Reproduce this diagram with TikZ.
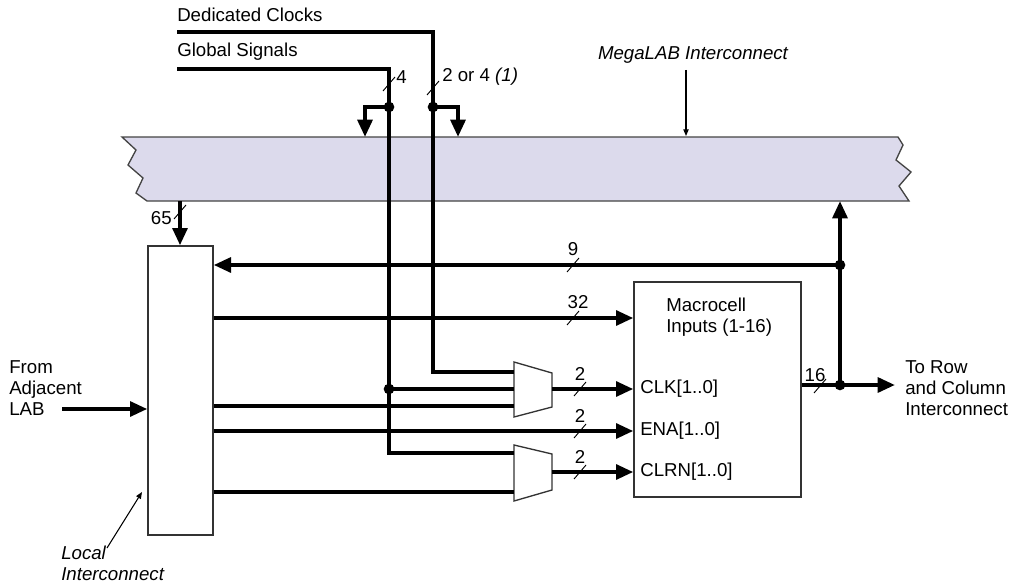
\documentclass[tikz,border=0pt]{standalone}
\usepackage{fontspec}
\setmainfont{Liberation Sans}
\usetikzlibrary{arrows.meta,calc}
\definecolor{bandfill}{HTML}{DCDAEC}
\definecolor{bandline}{HTML}{444444}
\tikzset{
  bus/.style={line width=3pt},
  busarrow/.style={line width=3pt,-{Triangle[length=13pt,width=11pt]}},
  thinarrow/.style={line width=0.8pt,-{Triangle[length=5pt,width=4pt]}},
  boxline/.style={draw=black!80,line width=1pt,fill=white},
  slashline/.style={line width=0.7pt},
  lbl/.style={inner sep=0pt,font=\fontsize{14}{16}\selectfont},
  ilbl/.style={inner sep=0pt,font=\fontsize{14}{16}\selectfont\itshape},
  dot/.style={circle,fill=black,inner sep=0pt,minimum size=8pt}
}
\newcommand{\busslash}[1]{\draw[slashline] ($(#1)+(-6,7)$) -- ($(#1)+(6,-7)$);}
\begin{document}
\begin{tikzpicture}[x=0.75pt,y=-0.75pt]
\useasboundingbox (0,0) rectangle (1020,585);
% MegaLAB band
\draw[fill=bandfill,draw=bandline,line width=1pt] (122,137) -- (898,137) -- (903,145) -- (896,160) -- (911,172) -- (899,186) -- (909,201) -- (147,201) -- (136,193) -- (143,178) -- (128,165) -- (136,150) -- cycle;
% boxes
\node[boxline,minimum width=48.75pt,minimum height=216.75pt,inner sep=0pt] (lic) at (180.5,390.5) {};
\node[boxline,minimum width=125.25pt,minimum height=161.25pt,inner sep=0pt] (mc) at (717.5,389.5) {};
% muxes
\draw[boxline] (514,362) coordinate (m1tl) -- (552,373) -- (552,407) -- (514,417) -- cycle;
\draw[boxline] (514,445) coordinate (m2tl) -- (552,454) -- (552,490) -- (514,501) -- cycle;
% coordinates
\coordinate (dcs) at (177,32);
\coordinate (gss) at (177,69);
\coordinate (dcj) at (433,107);
\coordinate (gsj) at (389,107);
\coordinate (gsk) at (389,389);
\coordinate (m1a) at (514,372);
\coordinate (m1b) at (514,389);
\coordinate (m1c) at (514,406);
\coordinate (m1o) at (552,389);
\coordinate (m2a) at (514,453);
\coordinate (m2b) at (514,492);
\coordinate (m2o) at (552,472);
\coordinate (bandL) at (365,137);
\coordinate (bandR) at (458,137);
\coordinate (band65) at (180,201);
\coordinate (bandUp) at (840,201);
\coordinate (j9) at (840,265);
\coordinate (j16) at (840,385);
\coordinate (outE) at (895,385);
\coordinate (adj) at (62,409);
% global and clock lines
\draw[bus] (dcs) -| (m1a -| dcj) -- (m1a);
\draw[bus] (gss) -| (m2a -| gsj) -- (m2a);
\draw[busarrow] (gsj) -| (bandL);
\draw[busarrow] (dcj) -| (bandR);
\draw[bus] (gsk) -- (m1b);
\node[dot] at (gsj) {};
\node[dot] at (dcj) {};
\node[dot] at (gsk) {};
\busslash{389,84}
\busslash{433,88}
\node[lbl,anchor=west] at (396,77) {4};
\node[lbl,anchor=west] at (442,77) {2 or 4 \textit{(1)}};
% 65
\draw[busarrow] (band65) -- (lic.north -| band65);
\busslash{180,212}
\node[lbl,anchor=east] at (172,218) {65};
% feedback
\draw[busarrow] (j16) -- (bandUp);
\draw[busarrow] (j9) -- (lic.east |- j9);
\busslash{573,265}
\node[lbl] at (573,249) {9};
% local outputs
\draw[busarrow] (lic.east |- 0,318) -- (mc.west |- 0,318);
\busslash{573,318}
\node[lbl] at (578,302) {32};
\draw[bus] (lic.east |- m1c) -- (m1c);
\draw[busarrow] (lic.east |- 0,431) -- (mc.west |- 0,431);
\busslash{580,431}
\node[lbl] at (580,416) {2};
\draw[bus] (lic.east |- m2b) -- (m2b);
% mux outputs
\draw[busarrow] (m1o) -- (mc.west |- m1o);
\busslash{580,389}
\node[lbl] at (580,374) {2};
\draw[busarrow] (m2o) -- (mc.west |- m2o);
\busslash{580,472}
\node[lbl] at (580,457) {2};
% macrocell output
\draw[busarrow] (mc.east |- j16) -- (outE);
\busslash{820,386}
\node[lbl] at (815,375) {16};
\node[dot] at (j9) {};
\node[dot] at (j16) {};
% from adjacent
\draw[busarrow] (adj) -- (lic.west |- adj);
\node[lbl,anchor=west,align=left] at (9,388) {From\\Adjacent\\LAB};
% macrocell texts
\node[lbl,anchor=west,align=left] at (666,317) {Macrocell\\Inputs (1-16)};
\node[lbl,anchor=west] at (640,389) {CLK[1..0]};
\node[lbl,anchor=west] at (640,431) {ENA[1..0]};
\node[lbl,anchor=west] at (640,472) {CLRN[1..0]};
\node[lbl,anchor=west,align=left] at (905,388) {To Row\\and Column\\Interconnect};
% top labels
\node[lbl,anchor=west] at (177,15) {Dedicated Clocks};
\node[lbl,anchor=west] at (177,52) {Global Signals};
\node[ilbl] (mlab) at (693,55) {MegaLAB Interconnect};
\coordinate (mlabtip) at (686,136);
\draw[thinarrow] (mlabtip |- 0,70) -- (mlabtip);
\node[ilbl,anchor=west,align=left] (lictext) at (61,563) {Local\\Interconnect};
\coordinate (lictip) at (142,492);
\draw[thinarrow] (107,548) -- (lictip);
\end{tikzpicture}
\end{document}
